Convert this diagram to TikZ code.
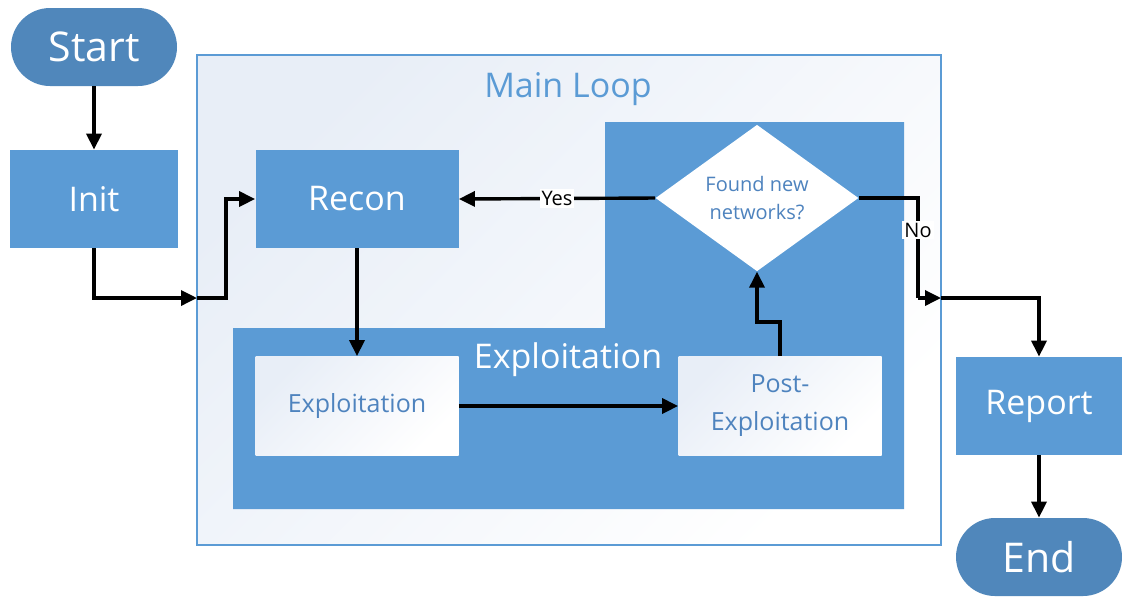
\documentclass[tikz,border=0pt]{standalone}
\usepackage{fontspec}
\setmainfont{Open Sans}
\usetikzlibrary{arrows.meta, positioning, shapes.geometric}
\definecolor{boxblue}{RGB}{91,155,213}
\definecolor{termblue}{RGB}{80,135,187}
\definecolor{textblue}{RGB}{78,131,190}
\definecolor{loopfill}{RGB}{232,238,247}

\begin{document}
\begin{tikzpicture}[x=0.5pt, y=-0.5pt,
  term/.style={fill=termblue, text=white, rounded corners=19.5pt,
    minimum width=83pt, minimum height=39pt, font=\fontsize{20.5}{24}\selectfont},
  stepbox/.style={fill=boxblue, text=white, minimum width=84pt,
    minimum height=49pt, font=\fontsize{17}{20}\selectfont},
  subbox/.style={top color=loopfill, bottom color=white, shading angle=45,
    text=textblue, minimum width=101.5pt, minimum height=49.5pt, align=center,
    font=\fontsize{12.5}{19}\selectfont},
  flow/.style={line width=1.7pt, -{Triangle[length=8pt, width=7.5pt]}},
  answer/.style={fill=white, inner sep=1pt, font=\fontsize{10}{12}\selectfont}]
  \useasboundingbox (0,0) rectangle (1122,602);

  % main loop frame
  \node[draw=boxblue, line width=0.6pt, top color=loopfill, bottom color=white,
    shading angle=45, minimum width=372pt, minimum height=245pt] (loop) at (569,300) {};
  \node[text=boxblue, font=\fontsize{17}{20}\selectfont] (looptitle) at (568,89) {Main Loop};

  % exploitation region
  \fill[boxblue] (233,328) -- (605,328) -- (605,122) -- (904,122)
    -- (904,509) -- (233,509) -- cycle;
  \node[text=white, font=\fontsize{17}{20}\selectfont] (exptitle) at (568,360) {Exploitation};

  \node[term] (start) at (94,47) {Start};
  \node[stepbox] (init) at (94,199) {Init};
  \node[stepbox, minimum width=101.5pt] (recon) at (357,199) {Recon};
  \node[subbox] (exploit) at (357,406) {Exploitation};
  \node[subbox] (post) at (780,406) {Post-\\Exploitation};
  \node[diamond, fill=white, text=textblue, align=center, inner sep=0pt,
    minimum width=101.5pt, minimum height=66pt,
    font=\fontsize{10}{14}\selectfont] (found) at (757,198) {Found new\\networks?};
  \node[stepbox, minimum width=83pt] (report) at (1039,406) {Report};
  \node[term] (end) at (1039,557) {End};

  \coordinate (inL) at (197,298);
  \coordinate (outR) at (941,298);

  \draw[flow] (start) -- (init);
  \draw[flow] (init.south) |- (inL);
  \draw[flow] (inL) -- ++(29,0) |- (recon.west);
  \draw[flow] (recon) -- (exploit);
  \draw[flow] (exploit) -- (post);
  \draw[flow] (post.north) -- ++(0,-34) -| (found.south);
  \draw[flow] (found.west) -- node[answer] {Yes} (recon.east);
  \draw[line width=1.7pt] (found.east) -| node[answer, pos=0.66] {No} (918,298);
  \draw[flow] (918,298) -- (outR);
  \draw[flow] (outR) -| (report.north);
  \draw[flow] (report) -- (end);
\end{tikzpicture}
\end{document}
